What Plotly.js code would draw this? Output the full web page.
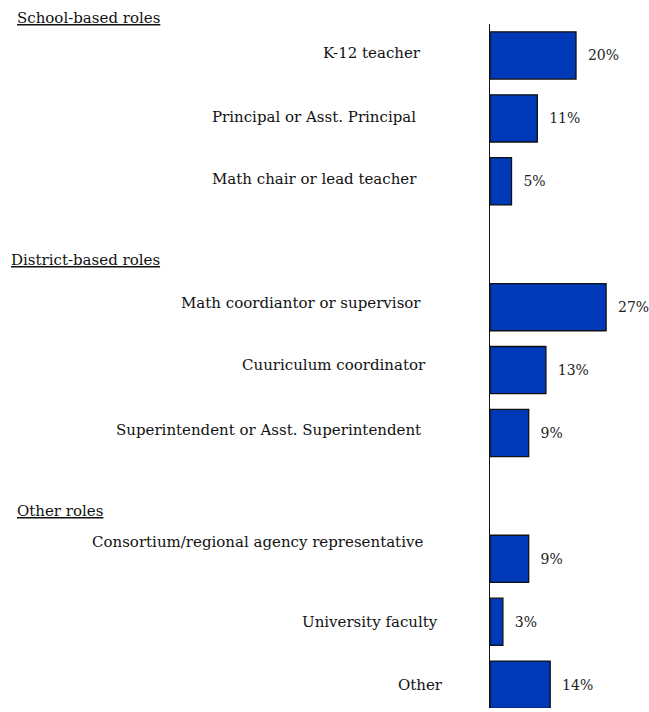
<!DOCTYPE html>
<html>
<head>
<meta charset="utf-8">
<script src="https://cdn.plot.ly/plotly-3.0.1.min.js"></script>
<style>html,body{margin:0;padding:0;background:#fff;}#chart{width:649px;height:712px;}</style>
</head>
<body>
<div id="chart"></div>
<script>
const categories = [
  "K-12 teacher",
  "Principal or Asst. Principal",
  "Math chair or lead teacher",
  "Math coordiantor or supervisor",
  "Cuuriculum coordinator",
  "Superintendent or Asst. Superintendent",
  "Consortium/regional agency representative",
  "University faculty",
  "Other"
];
const values = [20, 11, 5, 27, 13, 9, 9, 3, 14];
const groupNames = ["School-based roles", "District-based roles", "Other roles"];
const groupOf = [0, 0, 0, 1, 1, 1, 2, 2, 2];

// label placement styling (pixel offsets relative to the axis line / bar centre)
const labelRightGap = [67, 72, 71, 67, 62, 67, 65, 50, 45];
const labelLift = [2, 1, 2, 4, 5, 3, 17, 0, 0];
const headerLeft = [15, 9, 15];
const headerPaperY = [1.0095, 0.6545, 0.2878];

const FONT = "DejaVu Serif";
const FS = 15;
const slots = categories.map((c, i) => i + groupOf[i]);
const labels = values.map(v => "  " + v + "%");

const trace = {
  type: "bar",
  orientation: "h",
  x: values,
  y: slots,
  width: 0.75,
  text: labels,
  textposition: "outside",
  cliponaxis: false,
  textfont: {family: FONT, size: 14, color: "#222"},
  marker: {color: "#0039b7", line: {color: "#111", width: 1.3}},
  hoverinfo: "skip"
};

const annotations = [];
categories.forEach((c, i) => {
  annotations.push({
    text: c, xref: "paper", x: 0, xanchor: "right", xshift: -labelRightGap[i],
    yref: "y", y: slots[i], yanchor: "middle", yshift: labelLift[i],
    showarrow: false,
    font: {family: FONT, size: FS, color: "#111"}
  });
});
groupNames.forEach((g, k) => {
  annotations.push({
    text: g, xref: "paper", x: 0, xanchor: "left", xshift: headerLeft[k] - 490,
    yref: "paper", y: headerPaperY[k], yanchor: "middle",
    showarrow: false,
    font: {family: FONT, size: FS, color: "#111", lineposition: "under"}
  });
});

const layout = {
  width: 649, height: 712,
  margin: {l: 490, r: 9, t: 24, b: 4},
  paper_bgcolor: "#fff", plot_bgcolor: "#fff",
  showlegend: false,
  xaxis: {range: [0, 34.88], showgrid: false, zeroline: false, showticklabels: false, showline: false, ticks: ""},
  yaxis: {
    range: [10.37, -0.5], showgrid: false, zeroline: false, showticklabels: false,
    showline: true, linecolor: "#111", linewidth: 1.3, ticks: ""
  },
  annotations: annotations
};

Plotly.newPlot("chart", [trace], layout, {displayModeBar: false, staticPlot: true});
</script>
</body>
</html>
